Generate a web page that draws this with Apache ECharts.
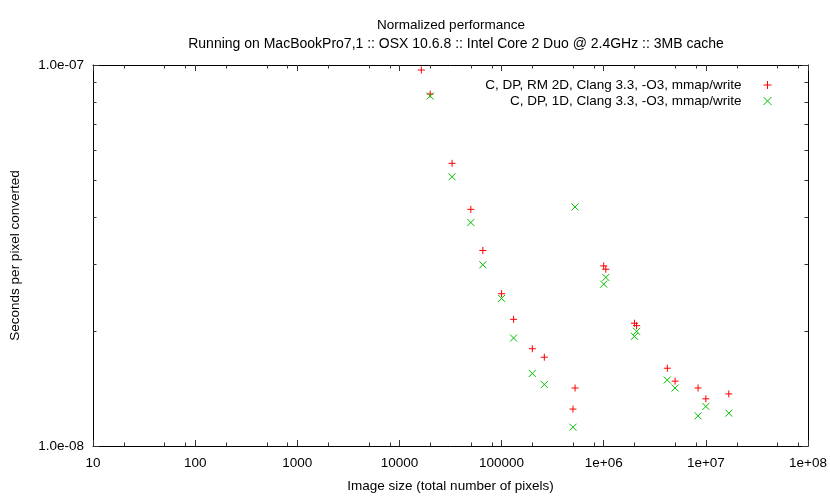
<!DOCTYPE html>
<html>
<head>
<meta charset="utf-8">
<script src="https://cdn.jsdelivr.net/npm/echarts@6/dist/echarts.min.js"></script>
<style>
html,body{margin:0;padding:0;background:#fff;}
#chart{width:830px;height:498px;}
</style>
</head>
<body>
<div id="chart"></div>
<script>
// ---- data ----
const seriesNames = [
  'C, DP, RM 2D, Clang 3.3, -O3, mmap/write',
  'C, DP, 1D, Clang 3.3, -O3, mmap/write'
];
const rm2dSizes = [16384, 20000, 32768, 50000, 65536, 100000, 131072, 200000, 262144, 500000, 524288, 1000000, 1048576, 2000000, 2097152, 4194304, 5000000, 8388608, 10000000, 16777216];
const rm2dSecs  = [9.70e-8, 8.39e-8, 5.52e-8, 4.18e-8, 3.26e-8, 2.51e-8, 2.15e-8, 1.80e-8, 1.71e-8, 1.25e-8, 1.42e-8, 2.97e-8, 2.91e-8, 2.10e-8, 2.07e-8, 1.60e-8, 1.48e-8, 1.42e-8, 1.33e-8, 1.37e-8];
const oneDSizes = [20000, 32768, 50000, 65536, 100000, 131072, 200000, 262144, 500000, 524288, 1000000, 1048576, 2000000, 2097152, 4194304, 5000000, 8388608, 10000000, 16777216];
const oneDSecs  = [8.29e-8, 5.09e-8, 3.86e-8, 2.99e-8, 2.44e-8, 1.92e-8, 1.55e-8, 1.45e-8, 1.12e-8, 4.24e-8, 2.66e-8, 2.77e-8, 1.94e-8, 2.00e-8, 1.49e-8, 1.42e-8, 1.20e-8, 1.27e-8, 1.22e-8];
const xTickLabels = ['10', '100', '1000', '10000', '100000', '1e+06', '1e+07', '1e+08'];
const yTickLabels = ['1.0e-08', '1.0e-07'];
const xMinorTicks = [20, 50, 80, 200, 500, 800, 2000, 5000, 8000, 20000, 50000, 80000, 200000, 500000, 800000, 2000000, 5000000, 8000000, 20000000, 50000000, 80000000];
const yMinorTicks = [2e-8, 3e-8, 4e-8, 5e-8, 6e-8, 7e-8, 8e-8, 9e-8];

// ---- style ----
const FONT = 'Liberation Sans';
const FS = 13.5;
const X_MIN = 10, X_MAX = 1e8, Y_MIN = 1e-8, Y_MAX = 1e-7;
const TICK_COLOR = '#333';
const MINOR_LEN = 3.5;
const PLUS = 'path://M0,5L10,5M5,0L5,10';
const CROSS = 'path://M0,0L10,10M10,0L0,10';
const RED = '#ff0000', GREEN = '#00c000';

function zip(a, b) { return a.map((v, i) => [v, b[i]]); }
function decadeIndex(v, base) { return Math.round(Math.log10(v) - base); }

const chart = echarts.init(document.getElementById('chart'), null, {renderer: 'canvas'});

function xMinorRender(params, api) {
  const cs = params.coordSys;
  const x = Math.round(api.coord([api.value(0), Y_MIN])[0]) + 0.5;
  const yb = cs.y + cs.height, yt = cs.y;
  return {type: 'group', children: [
    {type: 'line', shape: {x1: x, y1: yb, x2: x, y2: yb - MINOR_LEN}, style: {stroke: TICK_COLOR, lineWidth: 1}},
    {type: 'line', shape: {x1: x, y1: yt, x2: x, y2: yt + MINOR_LEN}, style: {stroke: TICK_COLOR, lineWidth: 1}}
  ]};
}
function yMinorRender(params, api) {
  const cs = params.coordSys;
  const y = Math.round(api.coord([X_MIN, api.value(1)])[1]) + 0.5;
  const xl = cs.x, xr = cs.x + cs.width;
  return {type: 'group', children: [
    {type: 'line', shape: {x1: xl, y1: y, x2: xl + MINOR_LEN, y2: y}, style: {stroke: TICK_COLOR, lineWidth: 1}},
    {type: 'line', shape: {x1: xr, y1: y, x2: xr - MINOR_LEN, y2: y}, style: {stroke: TICK_COLOR, lineWidth: 1}}
  ]};
}

const baseX = {
  type: 'log', logBase: 10, min: X_MIN, max: X_MAX, gridIndex: 0,
  axisLine: {show: true, lineStyle: {color: '#000', width: 1}},
  axisTick: {show: true, inside: true, length: 6, lineStyle: {color: TICK_COLOR}},
  splitLine: {show: false}, minorTick: {show: false}
};
const baseY = {
  type: 'log', logBase: 10, min: Y_MIN, max: Y_MAX, gridIndex: 0,
  axisLine: {show: true, lineStyle: {color: '#000', width: 1}},
  axisTick: {show: true, inside: true, length: 6, lineStyle: {color: TICK_COLOR}},
  splitLine: {show: false}, minorTick: {show: false}
};

const option = {
  animation: false,
  backgroundColor: '#fff',
  title: [
    {text: 'Normalized performance', left: 446, top: 13, textAlign: 'center',
     textStyle: {fontFamily: FONT, fontSize: FS, fontWeight: 'normal', color: '#000'}},
    {text: 'Running on MacBookPro7,1 :: OSX 10.6.8 :: Intel Core 2 Duo @ 2.4GHz :: 3MB cache', left: 451, top: 32, textAlign: 'center',
     textStyle: {fontFamily: FONT, fontSize: 14, fontWeight: 'normal', color: '#000'}}
  ],
  grid: {left: 89, right: 22, top: 65, bottom: 52, show: false},
  legend: {
    orient: 'vertical', right: 53, top: 73, align: 'right',
    itemWidth: 8, itemHeight: 8, itemGap: 2,
    itemStyle: {borderWidth: 1},
    data: [
      {name: seriesNames[0], icon: PLUS, itemStyle: {color: RED, borderColor: RED, borderWidth: 1}},
      {name: seriesNames[1], icon: CROSS, itemStyle: {color: GREEN, borderColor: GREEN, borderWidth: 1}}
    ],
    formatter: '{t|{name}}',
    textStyle: {fontFamily: FONT, fontSize: FS, color: '#000', lineHeight: 14,
      rich: {t: {fontFamily: FONT, fontSize: FS, color: '#000', lineHeight: 14, padding: [0, 17, 0, 0]}}}
  },
  xAxis: [
    Object.assign({}, baseX, {
      position: 'bottom',
      name: 'Image size (total number of pixels)', nameLocation: 'middle', nameGap: 33,
      nameTextStyle: {fontFamily: FONT, fontSize: FS, color: '#000'},
      axisLabel: {show: true, margin: 10, fontFamily: FONT, fontSize: FS, color: '#000',
        formatter: v => xTickLabels[decadeIndex(v, 1)]}
    }),
    Object.assign({}, baseX, {position: 'top', axisLabel: {show: false}})
  ],
  yAxis: [
    Object.assign({}, baseY, {
      position: 'left',
      name: 'Seconds per pixel converted', nameLocation: 'middle', nameGap: 71,
      nameTextStyle: {fontFamily: FONT, fontSize: FS, color: '#000'},
      axisLabel: {show: true, margin: 9, fontFamily: FONT, fontSize: FS, color: '#000',
        formatter: v => yTickLabels[decadeIndex(v, -8)]}
    }),
    Object.assign({}, baseY, {position: 'right', axisLabel: {show: false}})
  ],
  series: [
    {type: 'custom', name: 'xminor', xAxisIndex: 0, yAxisIndex: 0, silent: true, z: 1,
     renderItem: xMinorRender, data: xMinorTicks.map(v => [v, Y_MIN]), encode: {x: 0, y: 1}},
    {type: 'custom', name: 'yminor', xAxisIndex: 0, yAxisIndex: 0, silent: true, z: 1,
     renderItem: yMinorRender, data: yMinorTicks.map(v => [X_MIN, v]), encode: {x: 0, y: 1}},
    {type: 'scatter', name: seriesNames[0], xAxisIndex: 0, yAxisIndex: 0, z: 3,
     symbol: PLUS, symbolSize: 7,
     itemStyle: {color: RED, borderColor: RED, borderWidth: 1, opacity: 1},
     data: zip(rm2dSizes, rm2dSecs)},
    {type: 'scatter', name: seriesNames[1], xAxisIndex: 0, yAxisIndex: 0, z: 3,
     symbol: CROSS, symbolSize: 7,
     itemStyle: {color: GREEN, borderColor: GREEN, borderWidth: 1, opacity: 1},
     data: zip(oneDSizes, oneDSecs)}
  ]
};
chart.setOption(option);
</script>
</body>
</html>
